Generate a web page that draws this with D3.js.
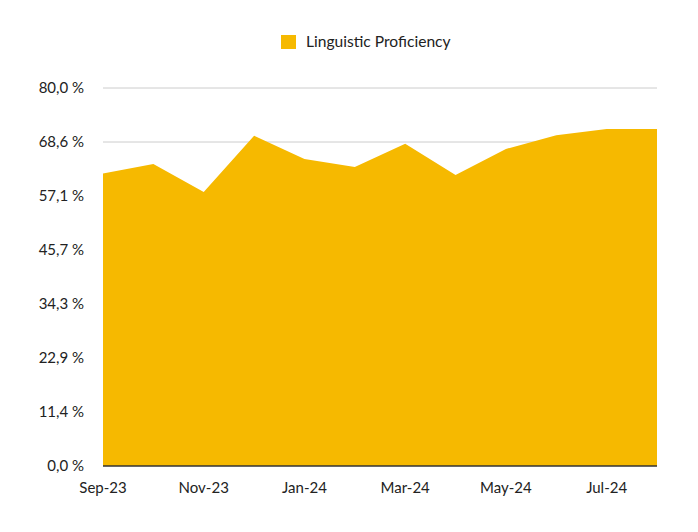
<!DOCTYPE html>
<html>
<head>
<meta charset="utf-8">
<script src="https://cdn.jsdelivr.net/npm/d3@7"></script>
<style>
  body { margin: 0; background: #fff; }
  text { font-family: Lato, "Noto Sans", sans-serif; fill: #222; }
</style>
</head>
<body>
<svg class="chart"></svg>
<script>
const size = {w: 698, h: 532};
const margin = {top: 88, right: 41, bottom: 66, left: 103};

// data
const months = ['Sep-23', 'Oct-23', 'Nov-23', 'Dec-23', 'Jan-24', 'Feb-24',
                'Mar-24', 'Apr-24', 'May-24', 'Jun-24', 'Jul-24', 'Aug-24'];
const proficiency = [61.9, 63.9, 58.0, 69.9, 65.0, 63.3, 68.2, 61.6, 67.1, 70.0, 71.3, 71.3];
const yTicks = [0, 80 / 7, 160 / 7, 240 / 7, 320 / 7, 400 / 7, 480 / 7, 80];
const xLabels = ['Sep-23', 'Nov-23', 'Jan-24', 'Mar-24', 'May-24', 'Jul-24'];
const seriesName = 'Linguistic Proficiency';
const fillColor = '#f6b900';

const svg = d3.select('svg.chart')
    .attr('width', size.w)
    .attr('height', size.h);

const innerW = size.w - margin.left - margin.right;
const innerH = size.h - margin.top - margin.bottom;

const g = svg.append('g')
    .attr('transform', `translate(${margin.left},${margin.top})`);

const x = d3.scalePoint()
    .domain(months)
    .range([0, innerW]);

const y = d3.scaleLinear()
    .domain([0, 80])
    .range([innerH, 0]);

// comma decimals, as in the original
const locale = d3.formatLocale({decimal: ',', thousands: '.', grouping: [3], currency: ['', '']});
const fmt = locale.format('.1f');

// gridlines
g.selectAll('line.grid')
    .data(yTicks.slice(1))
    .join('line')
    .classed('grid', true)
    .attr('x1', 0)
    .attr('x2', innerW)
    .attr('y1', d => y(d))
    .attr('y2', d => y(d))
    .attr('stroke', '#cccccc')
    .attr('stroke-width', 1);

// area
const area = d3.area()
    .x(d => x(d[0]))
    .y0(innerH)
    .y1(d => y(d[1]));

g.append('path')
    .datum(d3.zip(months, proficiency))
    .attr('d', area)
    .attr('fill', fillColor);

// baseline
g.append('line')
    .attr('x1', 0)
    .attr('x2', innerW)
    .attr('y1', innerH)
    .attr('y2', innerH)
    .attr('stroke', '#333')
    .attr('stroke-width', 1.5);

// y labels
g.selectAll('text.ylab')
    .data(yTicks)
    .join('text')
    .classed('ylab', true)
    .attr('x', -19)
    .attr('y', d => y(d))
    .attr('dy', '0.35em')
    .attr('text-anchor', 'end')
    .style('font-size', '15px')
    .text(d => fmt(d) + ' %');

// x labels
g.selectAll('text.xlab')
    .data(xLabels)
    .join('text')
    .classed('xlab', true)
    .attr('x', d => x(d))
    .attr('y', innerH + 22)
    .attr('dy', '0.35em')
    .attr('text-anchor', 'middle')
    .style('font-size', '15px')
    .text(d => d);

// legend
const legend = svg.append('g').attr('transform', 'translate(281,35)');
legend.append('rect')
    .attr('width', 15)
    .attr('height', 14)
    .attr('fill', fillColor);
legend.append('text')
    .attr('x', 25)
    .attr('y', 7)
    .attr('dy', '0.35em')
    .style('font-size', '15.6px')
    .text(seriesName);
</script>
</body>
</html>
